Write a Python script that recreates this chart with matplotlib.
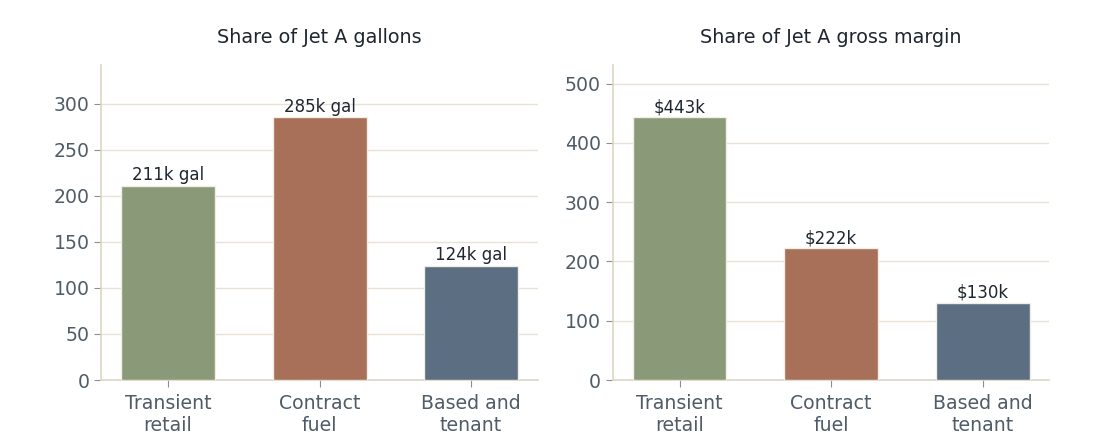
import matplotlib
matplotlib.use("Agg")
import matplotlib.pyplot as plt

categories = ["Transient\nretail", "Contract\nfuel", "Based and\ntenant"]
gallons_k = [211, 285, 124]
margin_k = [443, 222, 130]
colors = ["#8a9a78", "#a87058", "#5c6f82"]

spine_c = "#ddd5c5"
grid_c = "#e8e2d6"
tick_c = "#505c68"
text_c = "#1f2630"

fig = plt.figure(figsize=(11, 4.45), dpi=100)
ax1 = fig.add_axes([0.092, 0.146, 0.397, 0.708])
ax2 = fig.add_axes([0.557, 0.146, 0.397, 0.708])

panels = [
    (ax1, gallons_k, "Share of Jet A gallons", lambda v: f"{v}k gal"),
    (ax2, margin_k, "Share of Jet A gross margin", lambda v: f"${v}k"),
]

for ax, vals, title, fmt in panels:
    x = range(len(categories))
    bars = ax.bar(x, vals, width=0.62, color=colors, edgecolor="#f2eee6",
                  linewidth=1, zorder=3)
    ax.bar_label(bars, labels=[fmt(v) for v in vals], padding=1,
                 fontsize=12, color=text_c)
    ax.set_ylim(0, max(vals) * 1.2)
    ax.set_xticks(list(x))
    ax.set_xticklabels(categories)
    ax.set_title(title, fontsize=13.8, color=text_c, pad=16)
    ax.yaxis.grid(True, color=grid_c, linewidth=1, zorder=0)
    ax.set_axisbelow(True)
    for s in ["top", "right"]:
        ax.spines[s].set_visible(False)
    for s in ["left", "bottom"]:
        ax.spines[s].set_color(spine_c)
        ax.spines[s].set_linewidth(1.2)
    ax.tick_params(axis="both", colors="#8a8f95", labelcolor=tick_c,
                   labelsize=13.6, length=5)
    ax.tick_params(axis="x", pad=5)

ax1.set_yticks([0, 50, 100, 150, 200, 250, 300])
ax2.set_yticks([0, 100, 200, 300, 400, 500])

fig.savefig("out.png", dpi=100)
